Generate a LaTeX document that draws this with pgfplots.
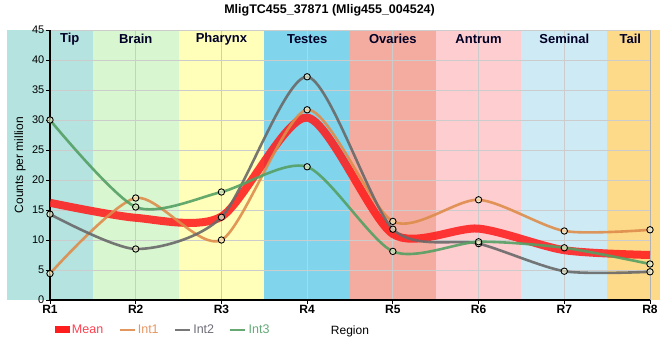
\documentclass[border=0pt]{standalone}
\usepackage{fontspec}
\setmainfont{Liberation Sans}
\usepackage{pgfplots}
\pgfplotsset{compat=1.18}
\definecolor{cMean}{RGB}{255,30,30}
\definecolor{cInt1}{RGB}{222,140,75}
\definecolor{cInt2}{RGB}{105,105,105}
\definecolor{cInt3}{RGB}{85,160,100}
\definecolor{tMean}{RGB}{255,64,80}
\definecolor{tInt1}{RGB}{230,150,100}
\definecolor{tInt2}{RGB}{110,110,120}
\definecolor{tInt3}{RGB}{100,170,120}
\definecolor{bTip}{RGB}{181,227,223}
\definecolor{bBrain}{RGB}{216,246,208}
\definecolor{bPharynx}{RGB}{255,255,186}
\definecolor{bTestes}{RGB}{128,212,236}
\definecolor{bOvaries}{RGB}{245,172,160}
\definecolor{bAntrum}{RGB}{254,205,207}
\definecolor{bSeminal}{RGB}{206,235,245}
\definecolor{bTail}{RGB}{253,217,138}
\pgfplotsset{band/.style={draw=none, fill=#1, on layer=axis background, forget plot}}
\begin{document}
\begin{tikzpicture}
\begin{axis}[
  set layers,
  at={(50bp,60bp)}, anchor=south west,
  scale only axis, width=600bp, height=270bp,
  xmin=0, xmax=7, ymin=0, ymax=45,
  xtick={0,...,7},
  xticklabels={R1,R2,R3,R4,R5,R6,R7,R8},
  ytick={0,5,...,45},
  grid=major, grid style={color=black!20, line width=0.8pt},
  axis x line*=bottom, axis y line*=left,
  axis line style={line width=1.5pt, black, -},
  tick style={black, line width=0.8pt},
  tick align=outside, major tick length=4bp,
  /pgf/number format/assume math mode=true,
  yticklabel style={font=\fontsize{11bp}{13bp}\selectfont, inner sep=1.5bp},
  xticklabel style={font=\bfseries\fontsize{12bp}{14bp}\selectfont, inner sep=1bp},
  ylabel={Counts per million},
  ylabel style={font=\fontsize{12bp}{14bp}\selectfont, at={(axis description cs:-0.05,0.5)}, anchor=center},
  xlabel={Region},
  xlabel style={font=\fontsize{12bp}{14bp}\selectfont, at={(axis description cs:0.5,-0.115)}, anchor=center},
  title={MligTC455\_37871 (Mlig455\_004524)},
  title style={font=\bfseries\fontsize{12.5bp}{14bp}\selectfont, at={(axis description cs:0.466,1.016)}, anchor=south},
  legend style={at={(axis description cs:0.008,-0.111)}, anchor=west, legend columns=4,
    draw=none, fill=none, inner sep=0pt, font=\fontsize{12.5bp}{14bp}\selectfont,
    /tikz/every even column/.append style={column sep=13bp}},
  legend cell align=left,
]
\addplot[band=bTip] coordinates {(-0.5,45) (0.5,45)} \closedcycle;
\addplot[band=bBrain] coordinates {(0.5,45) (1.5,45)} \closedcycle;
\addplot[band=bPharynx] coordinates {(1.5,45) (2.5,45)} \closedcycle;
\addplot[band=bTestes] coordinates {(2.5,45) (3.5,45)} \closedcycle;
\addplot[band=bOvaries] coordinates {(3.5,45) (4.5,45)} \closedcycle;
\addplot[band=bAntrum] coordinates {(4.5,45) (5.5,45)} \closedcycle;
\addplot[band=bSeminal] coordinates {(5.5,45) (6.5,45)} \closedcycle;
\addplot[band=bTail] coordinates {(6.5,45) (7.5,45)} \closedcycle;

\addplot[cMean, opacity=0.88, line width=8bp, smooth, tension=0.45, no marks,
  legend image code/.code={\fill[cMean, draw=none, opacity=1] (0bp,-3.5bp) rectangle (15bp,3.5bp);}]
  coordinates {(0,16.2) (1,13.7) (2,13.9) (3,30.4) (4,11.0) (5,11.9) (6,8.3) (7,7.5)};
\addlegendentry{\textcolor{tMean}{Mean}}
\addplot[cInt1, opacity=0.9, line width=2.6bp, smooth, tension=0.45, no marks,
  legend image code/.code={\draw[cInt1, line width=2.6bp] (0bp,0bp) -- (15bp,0bp);}]
  coordinates {(0,4.4) (1,17.0) (2,10.0) (3,31.7) (4,13.1) (5,16.7) (6,11.5) (7,11.7)};
\addlegendentry{\textcolor{tInt1}{Int1}}
\addplot[cInt2, opacity=0.9, line width=2.6bp, smooth, tension=0.45, no marks,
  legend image code/.code={\draw[cInt2, line width=2.6bp] (0bp,0bp) -- (15bp,0bp);}]
  coordinates {(0,14.3) (1,8.5) (2,13.8) (3,37.2) (4,11.8) (5,9.4) (6,4.8) (7,4.7)};
\addlegendentry{\textcolor{tInt2}{Int2}}
\addplot[cInt3, opacity=0.9, line width=2.6bp, smooth, tension=0.45, no marks,
  legend image code/.code={\draw[cInt3, line width=2.6bp] (0bp,0bp) -- (15bp,0bp);}]
  coordinates {(0,30.0) (1,15.5) (2,18.0) (3,22.2) (4,8.1) (5,9.7) (6,8.7) (7,6.0)};
\addlegendentry{\textcolor{tInt3}{Int3}}

\addplot[forget plot, only marks, mark=*, mark size=3.2bp, mark options={draw=black, line width=0.9pt, fill=yellow!15, fill opacity=0.6}]
  coordinates {(0,4.4) (1,17.0) (2,10.0) (3,31.7) (4,13.1) (5,16.7) (6,11.5) (7,11.7)};
\addplot[forget plot, only marks, mark=*, mark size=3.2bp, mark options={draw=black, line width=0.9pt, fill=yellow!15, fill opacity=0.6}]
  coordinates {(0,14.3) (1,8.5) (2,13.8) (3,37.2) (4,11.8) (5,9.4) (6,4.8) (7,4.7)};
\addplot[forget plot, only marks, mark=*, mark size=3.2bp, mark options={draw=black, line width=0.9pt, fill=yellow!15, fill opacity=0.6}]
  coordinates {(0,30.0) (1,15.5) (2,18.0) (3,22.2) (4,8.1) (5,9.7) (6,8.7) (7,6.0)};

\draw[black, line width=0.8pt] (axis cs:7,0) -- (axis cs:7,45);

\begin{scope}[every node/.style={font=\bfseries\fontsize{13bp}{15bp}\selectfont, anchor=center, text=black!85!blue}]
\node at (axis cs:0.23,43.5) {Tip};
\node at (axis cs:1,43.5) {Brain};
\node at (axis cs:2,43.5) {Pharynx};
\node at (axis cs:3,43.5) {Testes};
\node at (axis cs:4,43.5) {Ovaries};
\node at (axis cs:5,43.5) {Antrum};
\node at (axis cs:6,43.5) {Seminal};
\node at (axis cs:6.77,43.5) {Tail};
\end{scope}
\end{axis}
\pgfresetboundingbox
\path[use as bounding box] (0,0) rectangle (660bp,360bp);
\end{tikzpicture}
\end{document}
